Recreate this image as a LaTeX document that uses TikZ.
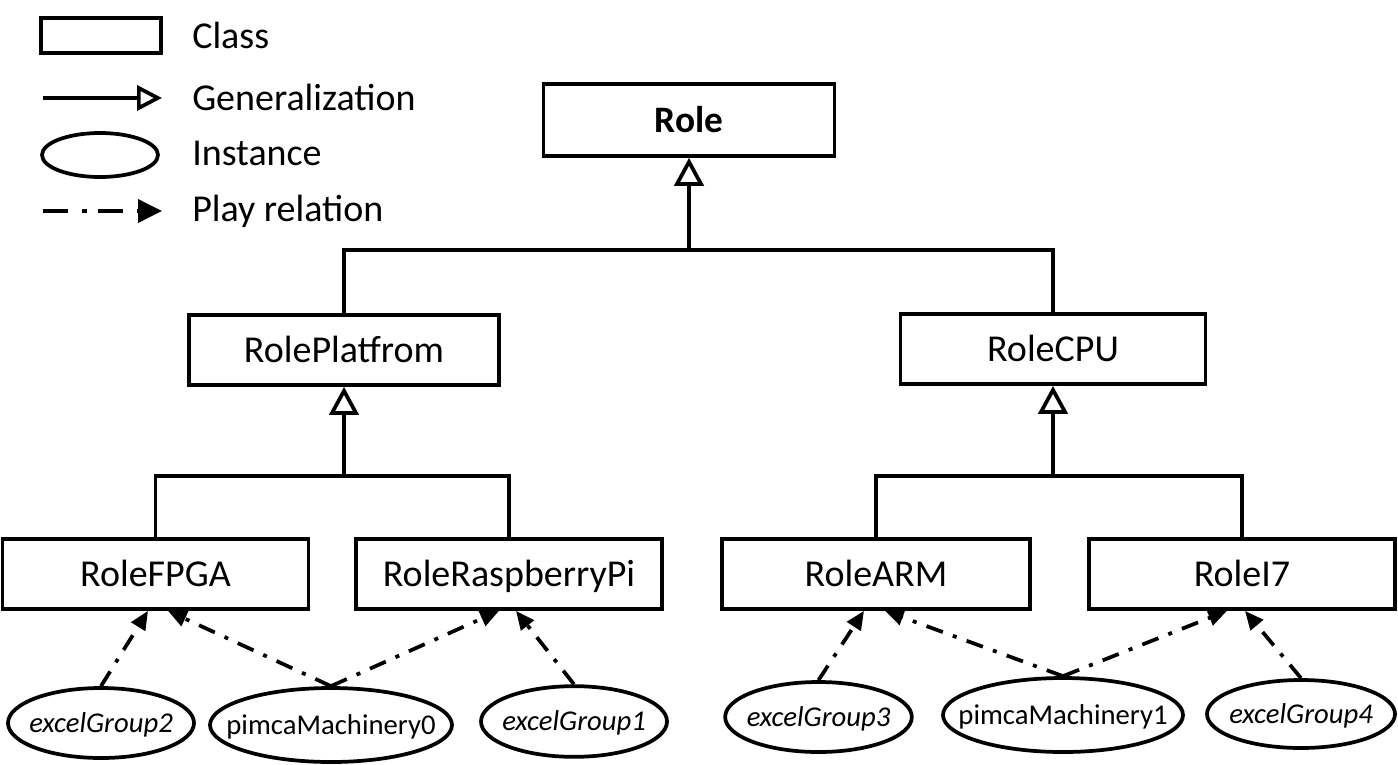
\documentclass[tikz,border=0pt]{standalone}
\usepackage{fontspec}
\setmainfont{Carlito}
\usetikzlibrary{arrows.meta,shapes.geometric,calc}
\begin{document}
\begin{tikzpicture}[x=0.75pt,y=-0.75pt,
  cls/.style={draw,line width=2.8pt,rectangle,minimum width=229.5pt,minimum height=52.5pt,inner sep=0pt,font=\fontsize{28.5}{34}\selectfont,text height=18pt,text depth=0pt},
  inst/.style={draw,line width=2.8pt,ellipse,inner sep=0pt,font=\fontsize{21.5}{26}\selectfont,text height=13.5pt,text depth=0pt},
  plainline/.style={line width=2.8pt,line join=miter},
  gen/.style={line width=2.8pt,-{Triangle[open,length=21pt,width=22pt]}},
  play/.style={line width=2.8pt,dash pattern=on 13pt off 8pt on 3pt off 8pt,-{Triangle[length=14pt,width=12pt]}},
  lbl/.style={anchor=base west,inner sep=0pt,font=\fontsize{28.5}{34}\selectfont}
]
\useasboundingbox (0,0) rectangle (1398,764);

% legend
\node[cls,minimum width=90pt,minimum height=26.25pt] (lcls) at (101,35.5) {};
\node[lbl] (tcls) at (192,48) {Class};
\coordinate (lg1) at (43,98);
\coordinate (lg2) at (162,98);
\draw[line width=2.8pt,-{Triangle[open,length=18.75pt,width=18.75pt]}] (lg1) -- (lg2);
\node[lbl] (tgen) at (192,110) {Generalization};
\node[inst,minimum width=87pt,minimum height=33pt] (linst) at (100,155) {};
\node[lbl] (tinst) at (192,165) {Instance};
\coordinate (lp1) at (43,211);
\coordinate (lp2) at (162,211);
\draw[line width=2.8pt,dash pattern=on 18.75pt off 10.5pt on 3.75pt off 8.25pt,-{Triangle[length=18pt,width=17.25pt]}] (lp1) -- (lp2);
\node[lbl] (tplay) at (192,221) {Play relation};

% classes
\node[cls,minimum width=218.25pt,minimum height=54pt,font=\fontsize{28}{34}\selectfont\bfseries] (role) at (689,120) {Role};
\node[cls,minimum width=232.5pt] (plat) at (344,350) {RolePlatfrom};
\node[cls,minimum width=228.75pt] (cpu) at (1053,349) {RoleCPU};
\node[cls] (fpga) at (155.5,574) {RoleFPGA};
\node[cls] (rpi) at (509,574) {RoleRaspberryPi};
\node[cls,minimum width=231pt] (arm) at (876,574) {RoleARM};
\node[cls] (i7) at (1242,574) {RoleI7};

% generalization tree
\coordinate (j0) at (689,250);
\coordinate (j1) at (344,476);
\coordinate (j2) at (1053,476);
\draw[plainline] (plat.north) |- (j0) -| (cpu.north);
\draw[gen] (j0) -- (role.south);
\draw[plainline] (fpga.north) |- (j1) -| (rpi.north);
\draw[gen] (j1) -- (plat.south);
\draw[plainline] (arm.north) |- (j2) -| (i7.north);
\draw[gen] (j2) -- (cpu.south);

% instances
\node[inst,minimum width=139.5pt,minimum height=52.5pt] (eg2) at (101,723) {\makebox[0pt]{\itshape excelGroup2}};
\node[inst,minimum width=181.5pt,minimum height=55.5pt] (pm0) at (331,725) {\makebox[0pt]{pimcaMachinery0}};
\node[inst,minimum width=139.5pt,minimum height=53pt] (eg1) at (574,721.5) {\makebox[0pt]{\itshape excelGroup1}};
\node[inst,minimum width=140pt,minimum height=52.5pt] (eg3) at (818.5,717) {\makebox[0pt]{\itshape excelGroup3}};
\node[inst,minimum width=180pt,minimum height=55.5pt] (pm1) at (1063,715) {\makebox[0pt]{pimcaMachinery1}};
\node[inst,minimum width=141pt,minimum height=51pt] (eg4) at (1301,714) {\makebox[0pt]{\itshape excelGroup4}};

% play relations
\draw[play] (eg2.north) -- ($(fpga.south)+(-7.5,0)$);
\draw[play] (pm0.north) -- ($(fpga.south)+(12.5,0)$);
\draw[play] (pm0.north) -- ($(rpi.south)+(-10,0)$);
\draw[play] (eg1.north) -- ($(rpi.south)+(7,0)$);
\draw[play] (eg3.north) -- ($(arm.south)+(-12,0)$);
\draw[play] (pm1.north) -- ($(arm.south)+(9,0)$);
\draw[play] (pm1.north) -- ($(i7.south)+(-15,0)$);
\draw[play] (eg4.north) -- ($(i7.south)+(3,0)$);
\end{tikzpicture}
\end{document}
